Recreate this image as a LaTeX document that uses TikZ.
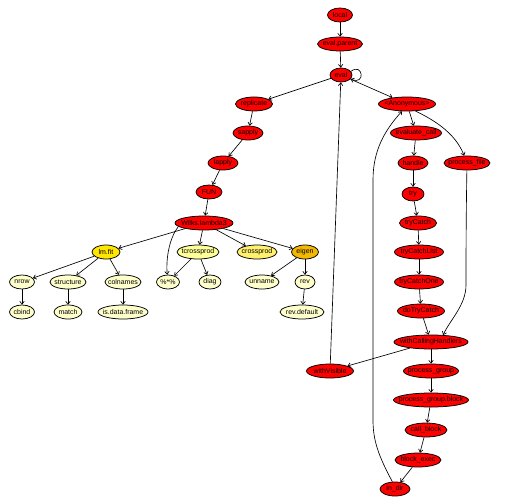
\documentclass[tikz,border=0pt]{standalone}
\usepackage{fontspec}
\setmainfont{Liberation Sans}
\usetikzlibrary{shapes.geometric,arrows.meta}
\definecolor{hotred}{HTML}{FF0000}
\definecolor{gold}{HTML}{FFE600}
\definecolor{paleyel}{HTML}{FFFF99}
\definecolor{midyel}{HTML}{FFF06E}
\definecolor{orng}{HTML}{F5B800}
\definecolor{cream}{HTML}{FFFFCC}
\newcommand\mk[1]{\makebox[0pt]{#1}}
\tikzset{
  fn/.style={ellipse,draw=black,line width=0.75bp,inner sep=0pt,minimum height=14bp,fill=hotred,font=\fontsize{7}{7}\selectfont},
  e/.style={line width=0.65bp,-{Straight Barb[length=2.8bp,width=4.5bp]}}
}
\begin{document}
\begin{tikzpicture}[x=1bp,y=-1bp]
\useasboundingbox (0,0) rectangle (504,504);
% left branch
\node[fn,minimum width=25bp] (local) at (340,15) {\mk{local}};
\node[fn,minimum width=45bp] (evalparent) at (340,44) {\mk{eval.parent}};
\node[fn,minimum width=22bp] (eval) at (341,75) {\mk{eval}};
\node[fn,minimum width=37bp] (replicate) at (254,104) {\mk{replicate}};
\node[fn,minimum width=30bp] (sapply) at (248,133) {\mk{sapply}};
\node[fn,minimum width=30bp] (lapply) at (223,163) {\mk{lapply}};
\node[fn,minimum width=26bp] (FUN) at (209,192) {\mk{FUN}};
\node[fn,minimum width=58bp] (wilks) at (204,223) {\mk{Wilks.lambda3}};
\node[fn,minimum width=28bp,fill=gold] (lmfit) at (106,252) {\mk{lm.fit}};
\node[fn,minimum width=42bp,fill=paleyel] (tcross) at (198,252) {\mk{tcrossprod}};
\node[fn,minimum width=40bp,fill=midyel] (cross) at (257,252) {\mk{crossprod}};
\node[fn,minimum width=27bp,fill=orng] (eigen) at (305,252) {\mk{eigen}};
\node[fn,minimum width=25bp,fill=cream] (nrow) at (22,282) {\mk{nrow}};
\node[fn,minimum width=36bp,fill=cream] (structure) at (68,282) {\mk{structure}};
\node[fn,minimum width=36bp,fill=cream] (colnames) at (123,282) {\mk{colnames}};
\node[fn,minimum width=23bp,fill=cream] (pct) at (168,282) {\mk{\%*\%}};
\node[fn,minimum width=22bp,fill=cream] (diag) at (210,282) {\mk{diag}};
\node[fn,minimum width=34bp,fill=cream] (unname) at (262,282) {\mk{unname}};
\node[fn,minimum width=20bp,fill=cream] (rev) at (305,282) {\mk{rev}};
\node[fn,minimum width=25bp,fill=cream] (cbind) at (22,312) {\mk{cbind}};
\node[fn,minimum width=28bp,fill=cream] (match) at (68,312) {\mk{match}};
\node[fn,minimum width=50bp,fill=cream] (isdf) at (123,312) {\mk{is.data.frame}};
\node[fn,minimum width=44bp,fill=cream] (revdef) at (302,312) {\mk{rev.default}};
% right branch
\node[fn,minimum width=57bp] (anon) at (407,104) {\mk{<Anonymous>}};
\node[fn,minimum width=51bp] (evalcall) at (416,133) {\mk{evaluate\_call}};
\node[fn,minimum width=30bp] (handle) at (413,163) {\mk{handle}};
\node[fn,minimum width=46bp] (procfile) at (467,163) {\mk{process\_file}};
\node[fn,minimum width=22bp] (try) at (413,194) {\mk{try}};
\node[fn,minimum width=37bp] (tc) at (418,223) {\mk{tryCatch}};
\node[fn,minimum width=49bp] (tcl) at (419,252) {\mk{tryCatchList}};
\node[fn,minimum width=49bp] (tco) at (419,282) {\mk{tryCatchOne}};
\node[fn,minimum width=47bp] (dotc) at (421,311) {\mk{doTryCatch}};
\node[fn,minimum width=74bp] (wch) at (431,342) {\mk{withCallingHandlers}};
\node[fn,minimum width=47bp] (wv) at (330,371) {\mk{withVisible}};
\node[fn,minimum width=55bp] (pg) at (431,371) {\mk{process\_group}};
\node[fn,minimum width=75bp] (pgb) at (431,400) {\mk{process\_group.block}};
\node[fn,minimum width=42bp] (cb) at (426,430) {\mk{call\_block}};
\node[fn,minimum width=46bp] (be) at (418,460) {\mk{block\_exec}};
\node[fn,minimum width=30bp] (indir) at (395,489) {\mk{in\_dir}};
% edges
\draw[e] (local) -- (evalparent);
\draw[e] (evalparent) -- (eval);
\draw[e] (eval.20) .. controls (363,62) and (366,86) .. (eval.-22);
\draw[e] (eval) -- (replicate);
\draw[e] (eval) -- (anon);
\draw[e] (replicate) -- (sapply);
\draw[e] (sapply) -- (lapply);
\draw[e] (lapply) -- (FUN);
\draw[e] (FUN) -- (wilks);
\draw[e] (wilks) -- (lmfit);
\draw[e] (wilks.188) .. controls (168,240) and (166,262) .. (pct);
\draw[e] (wilks) -- (tcross);
\draw[e] (wilks) -- (cross);
\draw[e] (wilks) -- (eigen);
\draw[e] (lmfit) -- (nrow);
\draw[e] (lmfit) -- (structure);
\draw[e] (lmfit) -- (colnames);
\draw[e] (tcross) -- (pct);
\draw[e] (tcross) -- (diag);
\draw[e] (eigen) -- (unname);
\draw[e] (eigen) -- (rev);
\draw[e] (nrow) -- (cbind);
\draw[e] (structure) -- (match);
\draw[e] (colnames) -- (isdf);
\draw[e] (rev) -- (revdef);
\draw[e] (anon) -- (evalcall);
\draw[e] (anon.-40) .. controls (445,125) and (458,140) .. (procfile);
\draw[e] (evalcall) -- (handle);
\draw[e] (handle) -- (try);
\draw[e] (try) -- (tc);
\draw[e] (tc) -- (tcl);
\draw[e] (tcl) -- (tco);
\draw[e] (tco) -- (dotc);
\draw[e] (dotc) -- (wch);
\draw[e] (procfile) .. controls (466,220) and (466,265) .. (466,285) .. controls (466,305) and (450,320) .. (wch.30);
\draw[e] (wch) -- (wv);
\draw[e] (wch) -- (pg);
\draw[e] (pg) -- (pgb);
\draw[e] (pgb) -- (cb);
\draw[e] (cb) -- (be);
\draw[e] (be) -- (indir);
\draw[e] (wv) -- (eval);
\draw[e] (indir.110) .. controls (378,455) and (373,440) .. (373,420) -- (373,180) .. controls (373,150) and (385,130) .. (anon.-125);
\end{tikzpicture}
\end{document}
